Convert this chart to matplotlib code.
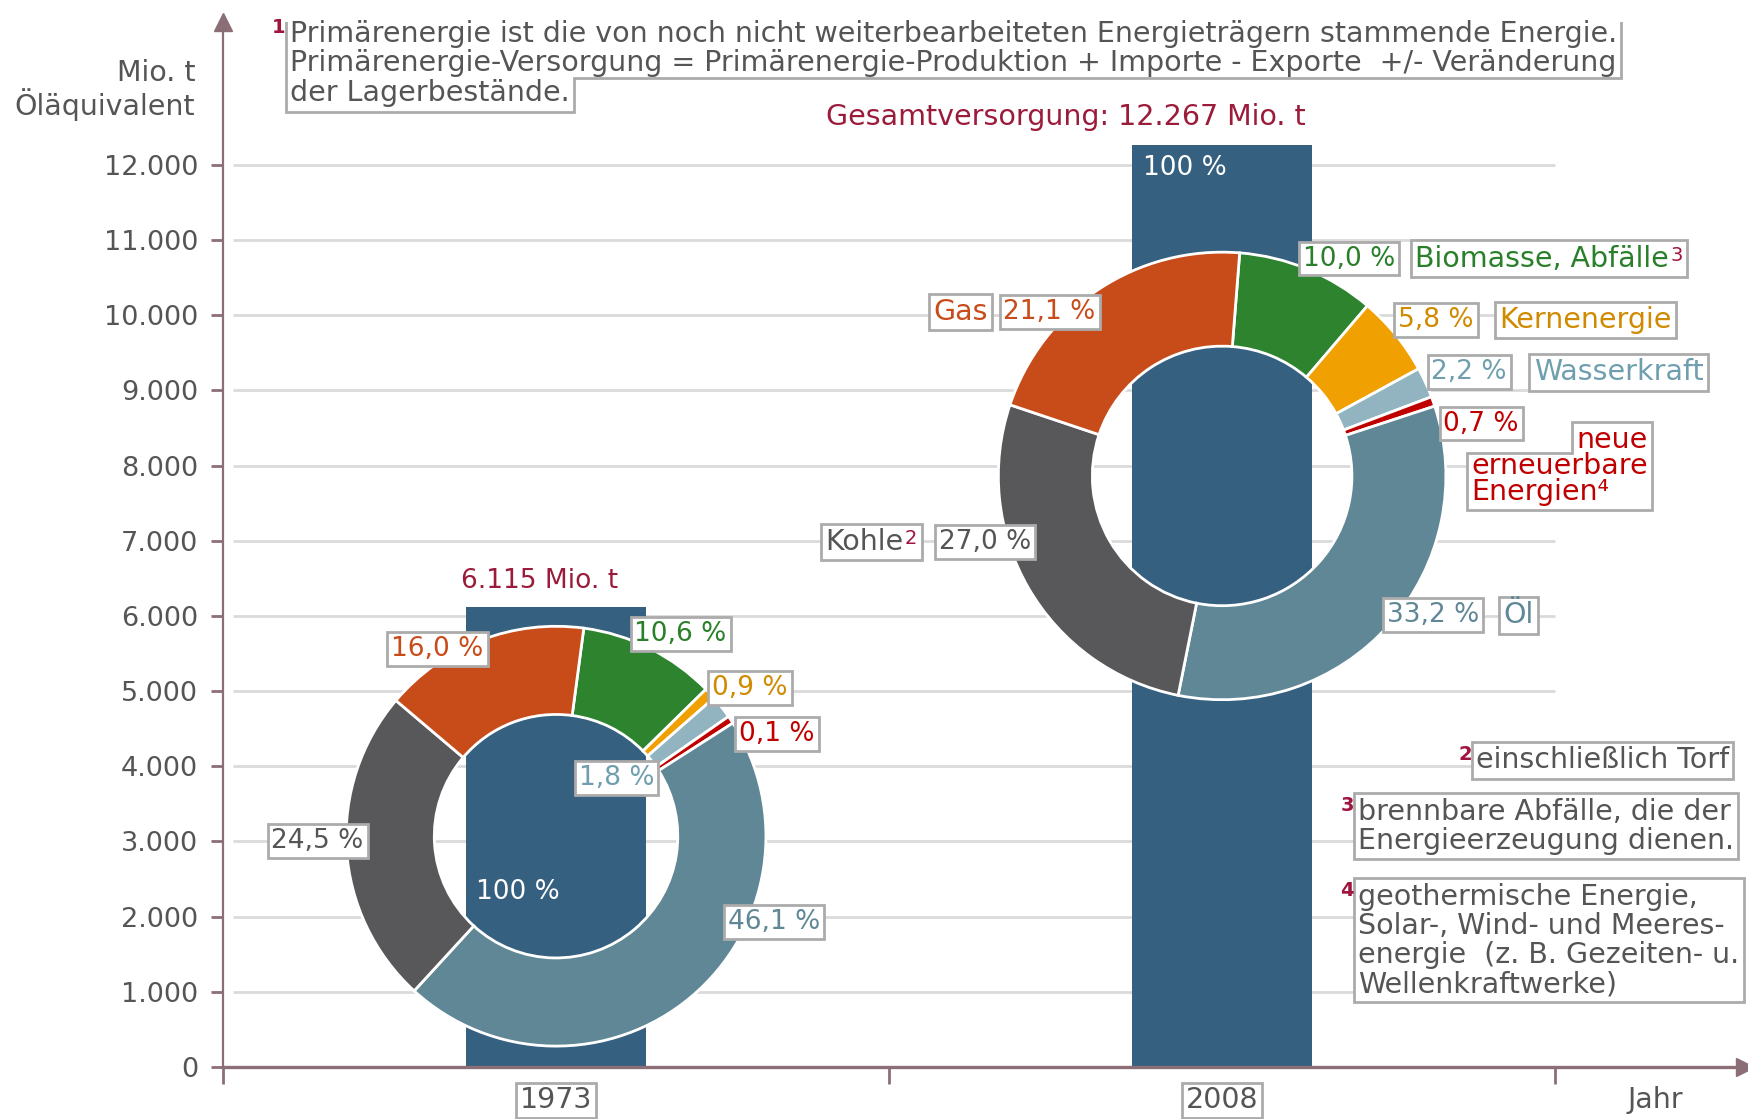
import numpy as np
import matplotlib
matplotlib.use('Agg')
import matplotlib.pyplot as plt
from matplotlib.patches import Polygon
from matplotlib.transforms import Bbox, IdentityTransform

plt.rcParams['font.family'] = ['DejaVu Sans']

# Daten
years = ['1973', '2008']
totals = [6115, 12267]          # Mio. t Öläquivalent
sources = ['Biomasse, Abfälle', 'Kernenergie', 'Wasserkraft',
           'neue erneuerbare Energien', 'Öl', 'Kohle', 'Gas']
share_1973 = [10.6, 0.9, 1.8, 0.1, 46.1, 24.5, 16.0]
share_2008 = [10.0, 5.8, 2.2, 0.7, 33.2, 27.0, 21.1]
yticks = np.arange(0, 12001, 1000)

# Farben
BAR = '#36607F'
AXC = '#8C6E76'
GRAY = '#555555'
DARKRED = '#9B1B3B'
MARK = '#A0153E'
EDGE = '#ABABAB'
COLORS = ['#2E842E', '#F0A000', '#92B4C0', '#C00000', '#5F8796', '#58585A', '#C84B1A']
TXT = ['#2A7F2A', '#D08A00', '#6F9FAF', '#C00000', '#5F8796', GRAY, '#C84B1A']
FS = 19      # Zahlen
FT = 20.5    # Wörter


def de(v):
    return f'{v:,}'.replace(',', '.')


def pct(v):
    return f'{v:.1f} %'.replace('.', ',')


W, H = 1749, 1119
fig = plt.figure(figsize=(W / 100, H / 100), dpi=100, facecolor='white')
ax = fig.add_axes([223 / W, 52 / H, 1522 / W, 1045 / H])
ax.set_xlim(-0.5, 1.785)
ax.set_ylim(0, 13900)

# Gitter und Säulen
ax.hlines(yticks[1:], -0.485, 1.5, color='#DADADA', lw=2, zorder=1)
ax.bar(range(len(years)), totals, width=0.27, color=BAR, zorder=2)

for s in ['top', 'right']:
    ax.spines[s].set_visible(False)
ax.spines['left'].set_color(AXC)
ax.spines['left'].set_linewidth(1.6)
ax.spines['bottom'].set_color(AXC)
ax.spines['bottom'].set_linewidth(2.4)
ax.plot(0, 1, '^', transform=ax.transAxes, clip_on=False, color=AXC, ms=13, zorder=5)
ax.plot(1, 0, '>', transform=ax.transAxes, clip_on=False, color=AXC, ms=13, zorder=5)

ax.set_yticks(yticks, [de(v) for v in yticks])
ax.tick_params(axis='y', length=9, width=2, color=AXC, labelsize=19.5, labelcolor=GRAY, pad=9)
ax.set_xticks([-0.5, 0.5, 1.5], ['', '', ''])
ax.tick_params(axis='x', which='major', length=12, width=2, color=AXC)
ax.set_xticks([0, 1, 1.651], years + ['Jahr'], minor=True)
ax.tick_params(axis='x', which='minor', length=0, pad=14, labelsize=FT, labelcolor=GRAY)
for lbl in ax.get_xticklabels(minor=True)[:2]:
    lbl.set_bbox(dict(boxstyle='square,pad=0.12', fc='white', ec=EDGE, lw=2))


# Ringdiagramme
def donut(xc, yc, r_px, shares, start):
    px, py = ax.transData.transform((xc, yc))
    dax = fig.add_axes([(px - r_px) / W, (py - r_px) / H, 2 * r_px / W, 2 * r_px / H])
    shown = np.maximum(shares, 0.6)  # sehr kleine Anteile sichtbar halten
    dax.pie(shown, colors=COLORS, startangle=start, counterclock=False, radius=1,
            wedgeprops=dict(width=0.42, edgecolor='white', linewidth=2))
    dax.set_xlim(-1.01, 1.01)
    dax.set_ylim(-1.01, 1.01)
    dax.axis('off')


donut(0, 3070, 212, share_1973, 82.4)
donut(1, 7862, 226, share_2008, 85.5)

# Beschriftungsebene über allem
lab = fig.add_axes(ax.get_position())
lab.set_xlim(ax.get_xlim())
lab.set_ylim(ax.get_ylim())
lab.axis('off')


def box(x, y, s, color, ha='center', va='center', size=FS, **kw):
    return lab.text(x, y, s, color=color, fontsize=size, ha=ha, va=va,
                    bbox=dict(boxstyle='square,pad=0.15', fc='white', ec=EDGE, lw=2), **kw)


def plain(x, y, s, color, ha='center', size=FT, **kw):
    return lab.text(x, y, s, color=color, fontsize=size, ha=ha, va='center', zorder=4, **kw)


def marker(t, s):
    return lab.annotate(s, xy=(0, 1), xycoords=t, xytext=(-3, 1), textcoords='offset points',
                        ha='right', va='top', color=MARK, fontsize=14, fontweight='bold', zorder=4)


def sup(t, s):
    return lab.annotate(s, xy=(1, 1), xycoords=t, xytext=(1, -1), textcoords='offset points',
                        ha='left', va='top', color=MARK, fontsize=14, zorder=4)


frames = []   # (oberer Teil, unterer Teil) – gestufte Rahmen

pos_1973 = [(0.187, 5755), (0.291, 5043), (0.091, 3842), (0.332, 4435),
            (0.327, 1928), (-0.358, 3011), (-0.178, 5562)]
pos_2008 = [(1.190, 10754), (1.321, 9938), (1.371, 9241), (1.389, 8559),
            (1.317, 6007), (0.644, 6986), (0.741, 10042)]
for (x, y), v, c in zip(pos_1973, share_1973, TXT):
    box(x, y, pct(v), c)
for (x, y), v, c in zip(pos_2008, share_2008, TXT):
    box(x, y, pct(v), c)

# Namen 2008
t = plain(1.480, 10754, 'Biomasse, Abfälle', TXT[0])
frames.append(([t, sup(t, '3')], None))
box(1.545, 9938, 'Kernenergie', TXT[1], size=FT)
box(1.595, 9241, 'Wasserkraft', TXT[2], size=FT)
t1 = plain(1.639, 8336, 'neue', TXT[3], ha='right')
t2 = plain(1.639, 7824, 'erneuerbare\nEnergien⁴', TXT[3], ha='right', multialignment='left',
           linespacing=0.92)
frames.append(([t1], [t2]))
box(1.445, 6007, 'Öl', TXT[4], size=FT)
t = plain(0.463, 6986, 'Kohle', TXT[5])
frames.append(([t, sup(t, '2')], None))
box(0.607, 10042, 'Gas', TXT[6], size=FT)

# Summen
lab.text(-0.024, 6467, de(totals[0]) + ' Mio. t', color=DARKRED, fontsize=FS, ha='center', va='center')
lab.text(0.766, 12638, 'Gesamtversorgung: ' + de(totals[1]) + ' Mio. t', color=DARKRED,
         fontsize=FT, ha='center', va='center')
lab.text(-0.057, 2329, '100 %', color='white', fontsize=FS, ha='center', va='center')
lab.text(0.944, 11955, '100 %', color='white', fontsize=FS, ha='center', va='center')

# Achsentitel
lab.text(-0.542, 12994, 'Mio. t\nÖläquivalent', color=GRAY, fontsize=FT, ha='right', va='center',
         multialignment='right', linespacing=1.05)

# Fußnoten
t1 = plain(-0.3995, 13550, 'Primärenergie ist die von noch nicht weiterbearbeiteten Energieträgern '
           'stammende Energie.\nPrimärenergie-Versorgung = Primärenergie-Produktion + Importe - '
           'Exporte  +/- Veränderung', GRAY, ha='left', linespacing=1.05)
t2 = plain(-0.3995, 12950, 'der Lagerbestände.', GRAY, ha='left')
frames.append(([t1], [t2]))
marker(t1, '1')
t = box(1.761, 4079, 'einschließlich Torf', GRAY, ha='right', size=FT)
marker(t, '2')
t = box(1.204, 3204, 'brennbare Abfälle, die der\nEnergieerzeugung dienen.', GRAY, ha='left',
        linespacing=1.05, size=FT)
marker(t, '3')
t = box(1.204, 1684, 'geothermische Energie,\nSolar-, Wind- und Meeres-\nenergie  (z. B. Gezeiten- u.\n'
        'Wellenkraftwerke)', GRAY, ha='left', linespacing=1.05, size=FT)
marker(t, '4')

# Rahmen (ggf. gestuft) um zusammengesetzte Beschriftungen
fig.canvas.draw()
pad = 0.15 * FT * fig.dpi / 72
for top, bottom in frames:
    tb = Bbox.union([a.get_window_extent() for a in top]).padded(pad)
    if bottom is None:
        pts = [(tb.x0, tb.y1), (tb.x1, tb.y1), (tb.x1, tb.y0), (tb.x0, tb.y0)]
    else:
        bb = Bbox.union([a.get_window_extent() for a in bottom]).padded(pad)
        m = (tb.y0 + bb.y1) / 2
        pts = [(tb.x0, tb.y1), (tb.x1, tb.y1), (tb.x1, m), (bb.x1, m), (bb.x1, bb.y0),
               (bb.x0, bb.y0), (bb.x0, m), (tb.x0, m)]
    lab.add_patch(Polygon(pts, closed=True, transform=IdentityTransform(), fc='white',
                          ec=EDGE, lw=2, zorder=3.5, joinstyle='miter'))

fig.savefig('out.png', dpi=100, facecolor='white')
